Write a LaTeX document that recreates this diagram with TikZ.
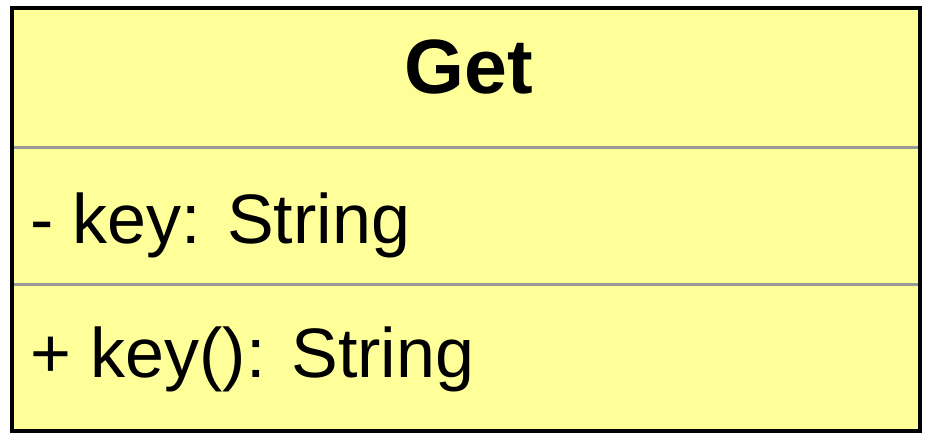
\documentclass[tikz,border=0pt]{standalone}
\usepackage{fontspec}
\setmainfont{Liberation Sans}
\usepackage{tikz}
\definecolor{classfill}{HTML}{FFFF99}
\definecolor{rulegray}{HTML}{999999}

\begin{document}
\begin{tikzpicture}[x=1pt,y=-1pt,
  classbox/.style={draw=black,line width=4pt,fill=classfill},
  divider/.style={draw=rulegray,line width=3pt},
  member/.style={anchor=base west,inner sep=0pt,font=\fontsize{70}{84}\selectfont},
  classname/.style={anchor=base,inner sep=0pt,font=\fontsize{77}{92}\selectfont\bfseries}]
\useasboundingbox (0,0) rectangle (928,444);
\coordinate (nw) at (12,8);
\coordinate (se) at (920,431);
\path[classbox] (nw) rectangle (se);
\coordinate (d1w) at (14,147.5);
\coordinate (d1e) at (918,147.5);
\coordinate (d2w) at (14,284);
\coordinate (d2e) at (918,284);
\draw[divider] (d1w) -- (d1e);
\draw[divider] (d2w) -- (d2e);
\draw[line width=4pt] (nw) rectangle (se);
\node[classname] (title) at (469,93) {Get};
\node[member] (attr) at (30,243) {- key: String};
\node[member] (oper) at (30,377) {+ key(): String};
\end{tikzpicture}
\end{document}
